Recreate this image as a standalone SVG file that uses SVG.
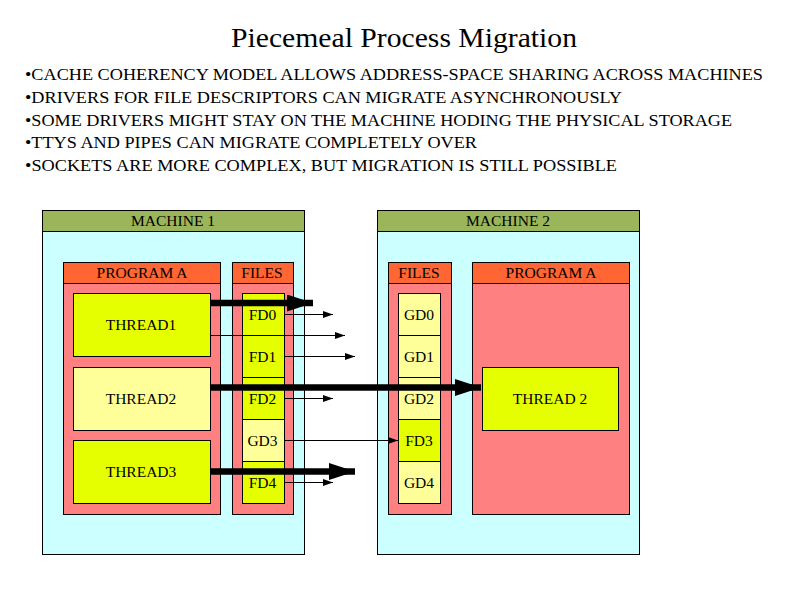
<svg xmlns="http://www.w3.org/2000/svg" width="800" height="597" viewBox="0 0 800 597">
<defs>
<style>
text{font-family:"Liberation Serif","Times New Roman",serif;fill:#000}
.t{font-size:28px}
.b{font-size:17.5px}
.l{font-size:15.5px;text-anchor:middle}
.hdr{fill:#9BB55A;stroke:#000;stroke-width:1}
.mach{fill:#CCFFFF;stroke:#000;stroke-width:1}
.ph{fill:#FF6633;stroke:#000;stroke-width:1}
.pb{fill:#FF8080;stroke:#000;stroke-width:1}
.y1{fill:#E6FF00;stroke:#000;stroke-width:1}
.y2{fill:#FFFF99;stroke:#000;stroke-width:1}
.thin{stroke:#000;stroke-width:1;fill:none}
.thick{stroke:#000;stroke-width:6.5;fill:none}
</style>
<marker id="sa" viewBox="0 0 10 7" refX="10" refY="3.5" markerWidth="10" markerHeight="7" markerUnits="userSpaceOnUse" orient="auto"><path d="M0,0L10,3.5L0,7z" fill="#000"/></marker>
<marker id="la" viewBox="0 0 26 17" refX="26" refY="8.5" markerWidth="26" markerHeight="17" markerUnits="userSpaceOnUse" orient="auto"><path d="M0,0L26,8.5L0,17z" fill="#000"/></marker>
</defs>
<rect width="800" height="597" fill="#fff"/>
<text class="t" x="231" y="47" textLength="346" lengthAdjust="spacingAndGlyphs">Piecemeal Process Migration</text>
<g id="bullets">
<text class="b" x="25" y="80" textLength="738" lengthAdjust="spacingAndGlyphs">•CACHE COHERENCY MODEL ALLOWS ADDRESS-SPACE SHARING ACROSS MACHINES</text>
<text class="b" x="25" y="103" textLength="597" lengthAdjust="spacingAndGlyphs">•DRIVERS FOR FILE DESCRIPTORS CAN MIGRATE ASYNCHRONOUSLY</text>
<text class="b" x="25" y="126" textLength="707" lengthAdjust="spacingAndGlyphs">•SOME DRIVERS MIGHT STAY ON THE MACHINE HODING THE PHYSICAL STORAGE</text>
<text class="b" x="25" y="148" textLength="452" lengthAdjust="spacingAndGlyphs">•TTYS AND PIPES CAN MIGRATE COMPLETELY OVER</text>
<text class="b" x="25" y="171" textLength="592" lengthAdjust="spacingAndGlyphs">•SOCKETS ARE MORE COMPLEX, BUT MIGRATION IS STILL POSSIBLE</text>
</g>
<g id="machine1">
<rect class="mach" x="42.5" y="210.5" width="262" height="344"/>
<rect class="hdr" x="42.5" y="210.5" width="262" height="21"/>
<text class="l" x="173" y="226">MACHINE 1</text>
</g>
<g id="m1-program">
<rect class="pb" x="63.5" y="262.5" width="157" height="252"/>
<rect class="ph" x="63.5" y="262.5" width="157" height="21"/>
<text class="l" x="142" y="278">PROGRAM A</text>
</g>
<g id="m1-thread1"><rect class="y1" x="73.5" y="293.5" width="137" height="63"/><text class="l" x="141" y="330">THREAD1</text></g>
<g id="m1-thread2"><rect class="y2" x="73.5" y="367.5" width="137" height="63"/><text class="l" x="141" y="404">THREAD2</text></g>
<g id="m1-thread3"><rect class="y1" x="73.5" y="440.5" width="137" height="63"/><text class="l" x="141" y="477">THREAD3</text></g>
<g id="m1-files">
<rect class="pb" x="232.5" y="262.5" width="61" height="252"/>
<rect class="ph" x="232.5" y="262.5" width="61" height="21"/>
<text class="l" x="262" y="278">FILES</text>
</g>
<g id="m1-fd0"><rect class="y1" x="242.5" y="293.5" width="42" height="42"/><text class="l" x="262.5" y="320">FD0</text></g>
<g id="m1-fd1"><rect class="y1" x="242.5" y="335.5" width="42" height="42"/><text class="l" x="262.5" y="362">FD1</text></g>
<g id="m1-fd2"><rect class="y1" x="242.5" y="377.5" width="42" height="42"/><text class="l" x="262.5" y="404">FD2</text></g>
<g id="m1-gd3"><rect class="y2" x="242.5" y="419.5" width="42" height="42"/><text class="l" x="262.5" y="446">GD3</text></g>
<g id="m1-fd4"><rect class="y1" x="242.5" y="461.5" width="42" height="42"/><text class="l" x="262.5" y="488">FD4</text></g>
<g id="machine2">
<rect class="mach" x="377.5" y="210.5" width="262" height="344"/>
<rect class="hdr" x="377.5" y="210.5" width="262" height="21"/>
<text class="l" x="508" y="226">MACHINE 2</text>
</g>
<g id="m2-files">
<rect class="pb" x="388.5" y="262.5" width="63" height="252"/>
<rect class="ph" x="388.5" y="262.5" width="63" height="21"/>
<text class="l" x="419" y="278">FILES</text>
</g>
<g id="m2-gd0"><rect class="y2" x="398.5" y="293.5" width="42" height="42"/><text class="l" x="419" y="320">GD0</text></g>
<g id="m2-gd1"><rect class="y2" x="398.5" y="335.5" width="42" height="42"/><text class="l" x="419" y="362">GD1</text></g>
<g id="m2-gd2"><rect class="y2" x="398.5" y="377.5" width="42" height="42"/><text class="l" x="419" y="404">GD2</text></g>
<g id="m2-fd3"><rect class="y1" x="398.5" y="419.5" width="42" height="42"/><text class="l" x="419" y="446">FD3</text></g>
<g id="m2-gd4"><rect class="y2" x="398.5" y="461.5" width="42" height="42"/><text class="l" x="419" y="488">GD4</text></g>
<g id="m2-program">
<rect class="pb" x="472.5" y="262.5" width="157" height="252"/>
<rect class="ph" x="472.5" y="262.5" width="157" height="21"/>
<text class="l" x="551" y="278">PROGRAM A</text>
</g>
<g id="m2-thread2"><rect class="y1" x="482.5" y="367.5" width="136" height="63"/><text class="l" x="550" y="404">THREAD 2</text></g>
<g id="connectors">
<line class="thick" x1="210" y1="303" x2="313" y2="303" marker-end="url(#la)"/>
<line class="thin" x1="284" y1="314.5" x2="333" y2="314.5" marker-end="url(#sa)"/>
<line class="thin" x1="210" y1="335.5" x2="345" y2="335.5" marker-end="url(#sa)"/>
<line class="thin" x1="284" y1="356.5" x2="355" y2="356.5" marker-end="url(#sa)"/>
<line class="thick" x1="210" y1="387.5" x2="481" y2="387.5" marker-end="url(#la)"/>
<line class="thin" x1="284" y1="398.5" x2="333" y2="398.5" marker-end="url(#sa)"/>
<line class="thin" x1="284" y1="440.5" x2="398" y2="440.5" marker-end="url(#sa)"/>
<line class="thick" x1="210" y1="471.5" x2="355" y2="471.5" marker-end="url(#la)"/>
<line class="thin" x1="284" y1="482.5" x2="333" y2="482.5" marker-end="url(#sa)"/>
</g>
</svg>
